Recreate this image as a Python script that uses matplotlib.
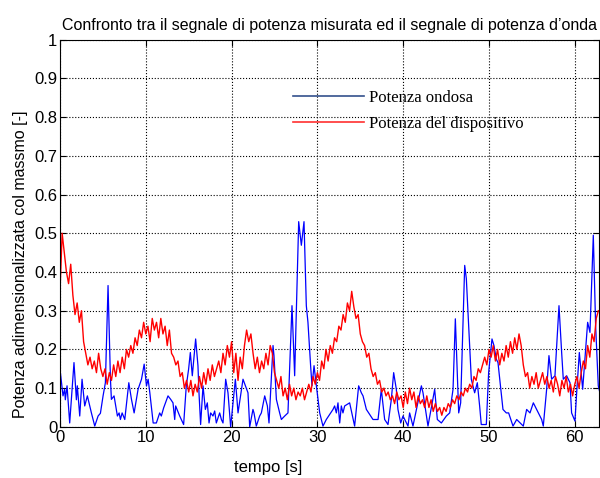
import numpy as np
import matplotlib.pyplot as plt
from matplotlib.lines import Line2D

# potenza ondosa (blu): tempi e valori
t_onda = [0.0, 0.35, 0.54, 0.62, 0.82, 1.13, 1.63, 1.91, 2.02, 2.30, 2.57, 2.88, 3.19, 3.66, 4.05,
          4.44, 4.71, 5.02, 5.29, 5.60, 5.88, 5.99, 6.30, 6.69, 6.89, 7.04, 7.24, 7.55, 8.02, 8.33,
          8.64, 9.10, 9.50, 9.81, 10.08, 10.27, 10.47, 10.86, 11.23, 11.62, 11.81, 12.08, 12.59,
          12.90, 13.17, 13.37, 13.48, 13.95, 14.41, 14.72, 14.99, 15.19, 15.42, 15.81, 16.08, 16.20,
          16.39, 16.67, 16.94, 17.17, 17.37, 17.56, 17.83, 18.03, 18.22, 18.61, 18.81, 19.00, 19.31,
          19.58, 19.89, 20.44, 20.75, 21.33, 21.91, 22.11, 22.49, 22.61, 22.88, 23.27, 23.47, 23.86,
          24.17, 24.36, 24.63, 24.83, 24.94, 25.22, 25.60, 25.80, 26.19, 26.57, 27.04, 27.35, 27.82,
          28.13, 28.44, 28.71, 28.90, 29.21, 29.37, 29.61, 29.88, 30.27, 30.65, 31.04, 31.82, 32.01,
          32.21, 32.40, 32.60, 32.79, 32.98, 33.18, 33.76, 34.34, 34.81, 35.12, 35.32, 35.71, 36.48,
          37.07, 37.45, 37.84, 38.23, 38.62, 38.89, 39.20, 39.39, 39.71, 39.98, 40.56, 40.75, 41.14,
          42.12, 42.31, 42.89, 43.67, 43.98, 44.45, 45.03, 45.42, 45.81, 46.08, 46.47, 46.70, 47.17,
          47.36, 47.55, 47.75, 47.94, 48.13, 48.33, 48.64, 48.91, 49.10, 49.69, 49.96, 50.35, 50.58,
          50.85, 51.05, 51.63, 52.02, 52.29, 52.80, 53.23, 54.00, 54.39, 54.78, 55.17, 56.14, 56.33,
          56.72, 56.99, 57.30, 57.69, 58.16, 58.47, 58.66, 59.05, 59.44, 59.63, 60.02, 60.22, 60.53,
          60.92, 61.50, 61.77, 62.16, 62.43, 62.74, 62.93]
p_onda = [0.149, 0.080, 0.097, 0.070, 0.106, 0.010, 0.166, 0.070, 0.106, 0.028, 0.123, 0.054, 0.080, 0.036, 0.002,
          0.028, 0.035, 0.080, 0.114, 0.365, 0.123, 0.071, 0.080, 0.028, 0.036, 0.019, 0.036, 0.019, 0.114, 0.071,
          0.036, 0.097, 0.123, 0.162, 0.106, 0.123, 0.088, 0.010, 0.010, 0.036, 0.028, 0.049, 0.080,
          0.071, 0.062, 0.019, 0.054, 0.028, 0.006, 0.106, 0.149, 0.192, 0.132, 0.227, 0.158, 0.088,
          0.006, 0.106, 0.045, 0.062, 0.010, 0.036, 0.028, 0.041, 0.010, 0.036, 0.019, 0.010, 0.123,
          0.088, 0.000, 0.123, 0.036, 0.123, 0.088, 0.000, 0.045, 0.036, 0.002, 0.028, 0.036, 0.080,
          0.054, 0.010, 0.123, 0.210, 0.184, 0.071, 0.036, 0.019, 0.028, 0.036, 0.313, 0.132, 0.530,
          0.469, 0.530, 0.313, 0.270, 0.158, 0.106, 0.158, 0.106, 0.036, 0.002, 0.019, 0.045, 0.054,
          0.036, 0.062, 0.010, 0.054, 0.036, 0.054, 0.062, 0.002, 0.106, 0.088, 0.080, 0.045, 0.019,
          0.019, 0.097, 0.019, 0.006, 0.071, 0.140, 0.097, 0.045, 0.010, 0.028, 0.002, 0.036, 0.002,
          0.106, 0.088, 0.002, 0.097, 0.019, 0.010, 0.028, 0.036, 0.097, 0.279, 0.036, 0.062, 0.417,
          0.383, 0.296, 0.210, 0.123, 0.106, 0.088, 0.114, 0.054, 0.006, 0.006, 0.140, 0.227, 0.210,
          0.175, 0.166, 0.045, 0.036, 0.036, 0.002, 0.019, 0.002, 0.045, 0.036, 0.062, 0.019, 0.002,
          0.097, 0.184, 0.123, 0.132, 0.313, 0.192, 0.123, 0.132, 0.114, 0.036, 0.015, 0.088, 0.192,
          0.097, 0.270, 0.244, 0.495, 0.261, 0.106, 0.088]

# potenza del dispositivo (rosso): un valore ogni 0.25 s
dt_disp = 0.25
p_disp = [
    0.35, 0.50, 0.45, 0.40, 0.37, 0.42, 0.34, 0.29, 0.32, 0.27, 0.30, 0.22, 0.19, 0.16, 0.18, 0.15, 0.17, 0.14, 0.19, 0.15,
    0.13, 0.15, 0.11, 0.14, 0.12, 0.16, 0.13, 0.17, 0.14, 0.18, 0.15, 0.20, 0.18, 0.21, 0.19, 0.23, 0.21, 0.25, 0.23, 0.27,
    0.24, 0.26, 0.22, 0.28, 0.25, 0.27, 0.23, 0.28, 0.24, 0.26, 0.21, 0.25, 0.19, 0.18, 0.16, 0.17, 0.13, 0.14, 0.10, 0.12,
    0.09, 0.12, 0.08, 0.11, 0.09, 0.13, 0.10, 0.14, 0.11, 0.15, 0.12, 0.16, 0.13, 0.15, 0.17, 0.14, 0.19, 0.16, 0.21, 0.18,
    0.22, 0.14, 0.19, 0.12, 0.18, 0.15, 0.21, 0.25, 0.22, 0.24, 0.19, 0.15, 0.18, 0.14, 0.17, 0.15, 0.19, 0.16, 0.21, 0.19,
    0.14, 0.12, 0.10, 0.13, 0.08, 0.10, 0.07, 0.11, 0.08, 0.10, 0.07, 0.09, 0.08, 0.10, 0.07, 0.09, 0.11, 0.09, 0.13, 0.11,
    0.14, 0.12, 0.17, 0.15, 0.20, 0.17, 0.21, 0.19, 0.23, 0.22, 0.26, 0.25, 0.29, 0.27, 0.32, 0.30, 0.35, 0.31, 0.28, 0.29,
    0.24, 0.22, 0.21, 0.18, 0.19, 0.15, 0.13, 0.14, 0.11, 0.12, 0.09, 0.10, 0.08, 0.09, 0.07, 0.08, 0.06, 0.09, 0.07, 0.08,
    0.05, 0.09, 0.06, 0.10, 0.07, 0.09, 0.05, 0.08, 0.06, 0.07, 0.05, 0.08, 0.05, 0.07, 0.04, 0.06, 0.04, 0.05, 0.03, 0.05,
    0.04, 0.06, 0.05, 0.07, 0.06, 0.08, 0.07, 0.09, 0.08, 0.10, 0.09, 0.11, 0.10, 0.13, 0.12, 0.15, 0.14, 0.16, 0.18, 0.16,
    0.20, 0.18, 0.21, 0.17, 0.20, 0.16, 0.19, 0.17, 0.21, 0.18, 0.22, 0.19, 0.23, 0.20, 0.24, 0.21, 0.16, 0.13, 0.14, 0.10,
    0.13, 0.11, 0.14, 0.10, 0.12, 0.14, 0.11, 0.13, 0.10, 0.12, 0.09, 0.13, 0.11, 0.08, 0.12, 0.10, 0.13, 0.09, 0.11, 0.08,
    0.11, 0.13, 0.10, 0.14, 0.17, 0.15, 0.21, 0.18, 0.24, 0.22, 0.28, 0.30]
t_disp = np.arange(len(p_disp)) * dt_disp

x_ticks = [0, 10, 20, 30, 40, 50, 60]
y_ticks = [0, 0.1, 0.2, 0.3, 0.4, 0.5, 0.6, 0.7, 0.8, 0.9, 1]
y_labels = ["0", "0.1", "0.2", "0.3", "0.4", "0.5", "0.6", "0.7", "0.8", "0.9", "1"]

plt.rcParams['font.family'] = ['Liberation Sans', 'DejaVu Sans']

fig = plt.figure(figsize=(6, 4.78), dpi=100)
ax = fig.add_axes([0.1, 0.107, 0.898, 0.81])

ax.plot(t_onda, p_onda, color="#0000ff", lw=0.9)
ax.plot(t_disp, p_disp, color="#ff0000", lw=1.0)

ax.set_xlim(0, 62.8)
ax.set_ylim(0, 1)
ax.set_xticks(x_ticks)
ax.set_yticks(y_ticks)
ax.set_yticklabels(y_labels)
ax.tick_params(direction="in", labelsize=12, top=True, right=True, length=4, pad=2)
ax.grid(True, color="black", linestyle=":", lw=0.8)

ax.set_title("Confronto tra il segnale di potenza misurata ed il segnale di potenza d\u2019onda",
             fontsize=11.5, pad=7)
ax.set_xlabel("tempo [s]", fontsize=12)
ax.xaxis.set_label_coords(0.386, -0.085)
ax.set_ylabel("Potenza adimensionalizzata col massmo [-]", fontsize=11.5)
ax.yaxis.set_label_coords(-0.06, 0.42)

handles = [Line2D([], [], color="#34508c", lw=1.2), Line2D([], [], color="#ff3030", lw=1.2)]
ax.legend(handles, ["Potenza ondosa", "Potenza del dispositivo"], loc="upper left",
          bbox_to_anchor=(0.405, 0.91), frameon=False, handlelength=4.25, handletextpad=0.3,
          labelspacing=0.62, prop={"family": "Liberation Serif", "size": 12})

fig.savefig("out.png", dpi=100)
